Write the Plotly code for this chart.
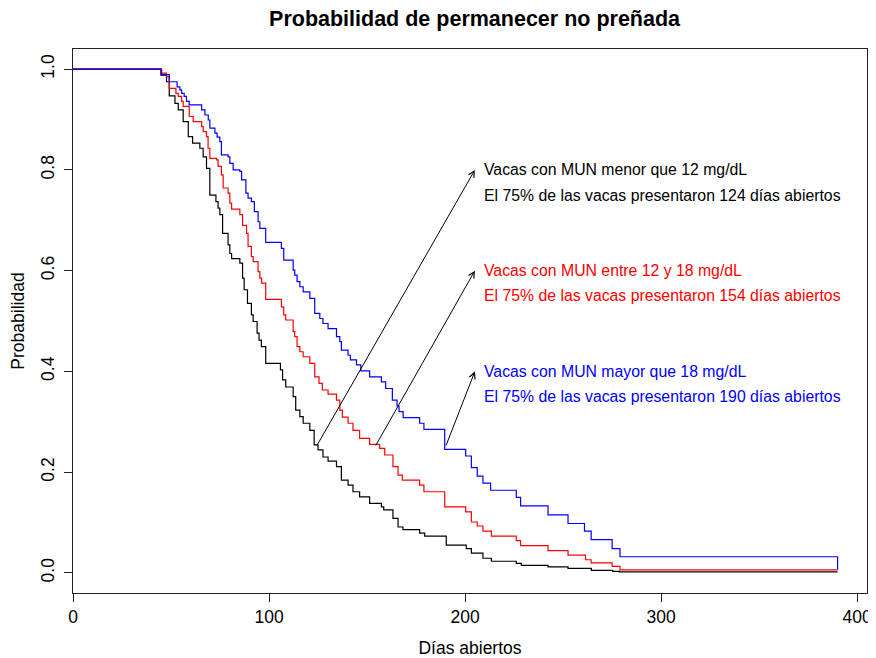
import plotly.graph_objects as go

# Kaplan-Meier style step data (days, survival)
black_t = [0, 44.8, 47.7, 49.1, 52.0, 53.7, 56.2, 58.8, 61.0, 64.7, 66.4, 68.1, 69.8, 72.9, 74.0, 74.9,
           76.3, 79.1, 80.0, 80.9, 85.1, 86.5, 87.3, 89.0, 91.0, 91.9, 93.9, 94.9, 96.1, 98.3, 105.8,
           106.9, 108.5, 112.3, 113.6, 115.7, 117.4, 120.8, 123.0, 125.0, 127.5, 130.1, 134.4, 136.9,
           140.3, 142.8, 146.2, 151.3, 157.3, 158.5, 163.2, 165.8, 168.3, 176.8, 179.4, 190.4, 200.6,
           203.2, 209.1, 213.4, 226.1, 228.7, 242.3, 252.5, 264.4, 275.3, 278.7, 390]
black_s = [1.0, 0.988, 0.975, 0.947, 0.932, 0.919, 0.896, 0.866, 0.853, 0.843, 0.826, 0.803, 0.750, 0.737,
           0.724, 0.711, 0.674, 0.651, 0.634, 0.624, 0.615, 0.585, 0.562, 0.535, 0.512, 0.499, 0.476, 0.462,
           0.449, 0.416, 0.403, 0.383, 0.369, 0.350, 0.323, 0.310, 0.297, 0.283, 0.254, 0.244, 0.230, 0.222,
           0.211, 0.184, 0.174, 0.161, 0.151, 0.138, 0.131, 0.125, 0.108, 0.091, 0.086, 0.079, 0.073, 0.055,
           0.048, 0.039, 0.029, 0.023, 0.019, 0.015, 0.012, 0.009, 0.005, 0.003, 0.002, 0.002]

red_t = [0, 44.8, 47.7, 49.1, 52.5, 53.7, 55.4, 56.2, 59.3, 61.3, 65.6, 66.4, 68.1, 68.9, 69.8, 73.2, 74.0,
         75.7, 76.6, 79.1, 80.0, 80.9, 85.1, 86.5, 88.5, 89.3, 91.0, 91.9, 94.4, 95.3, 96.2, 98.3, 106.3,
         107.5, 108.5, 112.3, 113.1, 114.3, 115.7, 117.4, 120.8, 123.3, 125.5, 127.2, 130.1, 134.4, 136.1,
         137.4, 140.3, 142.8, 146.2, 151.3, 156.4, 159.0, 163.2, 165.8, 168.0, 176.8, 179.0, 189.6, 200.3,
         203.2, 206.2, 209.1, 213.4, 226.1, 228.3, 242.3, 252.5, 261.4, 264.3, 275.0, 279.0, 390]
red_s = [1.0, 0.992, 0.985, 0.962, 0.952, 0.946, 0.936, 0.926, 0.906, 0.896, 0.886, 0.876, 0.866, 0.843,
         0.823, 0.820, 0.807, 0.790, 0.764, 0.754, 0.734, 0.722, 0.711, 0.690, 0.674, 0.648, 0.628, 0.618,
         0.598, 0.585, 0.575, 0.543, 0.528, 0.512, 0.502, 0.479, 0.469, 0.449, 0.439, 0.429, 0.416, 0.389,
         0.376, 0.363, 0.355, 0.343, 0.323, 0.309, 0.297, 0.283, 0.267, 0.255, 0.247, 0.234, 0.211, 0.194,
         0.184, 0.174, 0.161, 0.131, 0.121, 0.101, 0.093, 0.083, 0.073, 0.064, 0.054, 0.044, 0.035, 0.026,
         0.020, 0.013, 0.006, 0.006]

blue_t = [0, 45.2, 49.1, 53.1, 54.5, 55.4, 56.7, 57.9, 59.3, 65.6, 67.3, 69.0, 69.8, 72.4, 73.5, 74.9, 75.7,
          79.1, 80.0, 81.7, 85.1, 86.0, 88.2, 89.3, 91.0, 92.5, 94.4, 95.3, 98.3, 106.3, 107.5, 112.3, 113.1,
          114.3, 115.7, 117.4, 120.8, 123.3, 125.9, 127.5, 130.1, 134.4, 136.1, 136.9, 140.3, 141.5, 144.6,
          146.8, 151.3, 157.3, 159.5, 162.9, 165.3, 166.3, 168.4, 176.8, 179.0, 189.6, 200.3, 203.2, 206.2,
          209.1, 213.0, 226.1, 228.3, 242.3, 252.5, 260.9, 264.3, 275.0, 279.0, 390]
blue_s = [1.0, 0.989, 0.975, 0.965, 0.959, 0.952, 0.946, 0.936, 0.929, 0.919, 0.909, 0.899, 0.883, 0.873,
          0.865, 0.856, 0.830, 0.826, 0.813, 0.800, 0.797, 0.780, 0.754, 0.744, 0.737, 0.717, 0.697, 0.684,
          0.656, 0.644, 0.621, 0.601, 0.591, 0.578, 0.568, 0.558, 0.545, 0.515, 0.505, 0.495, 0.485, 0.469,
          0.459, 0.442, 0.432, 0.423, 0.413, 0.401, 0.389, 0.379, 0.366, 0.343, 0.331, 0.320, 0.308, 0.297,
          0.285, 0.245, 0.232, 0.209, 0.192, 0.178, 0.164, 0.150, 0.133, 0.115, 0.098, 0.083, 0.066, 0.048,
          0.032, 0.006]

# Annotation data
arrow_tail_x = [124, 154, 190]
arrow_tail_y = [0.25, 0.25, 0.25]
arrow_head_x = [205, 205, 205]
arrow_head_y = [0.80, 0.60, 0.40]
label_x = 208.5
label_line1 = ["Vacas con MUN menor que 12 mg/dL",
               "Vacas con MUN entre 12 y 18 mg/dL",
               "Vacas con MUN mayor que 18 mg/dL"]
label_line2 = ["El 75% de las vacas presentaron 124 días abiertos",
               "El 75% de las vacas presentaron 154 días abiertos",
               "El 75% de las vacas presentaron 190 días abiertos"]
label_y1 = [0.80, 0.60, 0.40]
label_y2 = [0.75, 0.55, 0.35]
label_colors = ["#000000", "#FF0000", "#0000FF"]

x_ticks = [0, 100, 200, 300, 400]
y_ticks = [0.0, 0.2, 0.4, 0.6, 0.8, 1.0]

FONT = "Liberation Sans, Arial, Helvetica, sans-serif"

fig = go.Figure()
for t, s, c in [(black_t, black_s, "#000000"), (red_t, red_s, "#FF0000"), (blue_t, blue_s, "#0000FF")]:
    fig.add_trace(go.Scatter(x=t, y=s, mode="lines", line=dict(color=c, width=1.2, shape="hv"),
                             showlegend=False, hoverinfo="skip"))

annotations = []
for i in range(3):
    annotations.append(dict(x=arrow_head_x[i], y=arrow_head_y[i], ax=arrow_tail_x[i], ay=arrow_tail_y[i],
                            xref="x", yref="y", axref="x", ayref="y", text="", showarrow=True,
                            arrowhead=5, arrowsize=1.2, arrowwidth=1, arrowcolor="#000000",
                            standoff=0, startstandoff=0))
    annotations.append(dict(x=label_x, y=label_y1[i], xref="x", yref="y", text=label_line1[i],
                            showarrow=False, xanchor="left", yanchor="middle",
                            font=dict(family=FONT, size=15.8, color=label_colors[i])))
    annotations.append(dict(x=label_x, y=label_y2[i], xref="x", yref="y", text=label_line2[i],
                            showarrow=False, xanchor="left", yanchor="middle",
                            font=dict(family=FONT, size=15.8, color=label_colors[i])))

fig.update_layout(
    width=868, height=650,
    margin=dict(l=65, r=9, t=41, b=65, autoexpand=False),
    paper_bgcolor="white", plot_bgcolor="white",
    font=dict(family=FONT, size=17.5, color="#000000"),
    title=dict(text="<b>Probabilidad de permanecer no preñada</b>", x=0.5375, xanchor="center",
               y=0.9846, yanchor="middle", font=dict(family=FONT, size=21.5, color="#000000")),
    annotations=annotations,
    xaxis=dict(range=[0, 405], tickvals=x_ticks, ticktext=[str(v) for v in x_ticks], automargin=False,
               showgrid=False, zeroline=False, showline=True, linecolor="#222222", linewidth=1,
               mirror=True, ticks="outside", ticklen=8, tickcolor="#222222",
               title=dict(text="Días abiertos", standoff=16, font=dict(size=17.5))),
    yaxis=dict(range=[-0.04, 1.04], tickvals=y_ticks, ticktext=["%.1f" % v for v in y_ticks],
               tickangle=-90, automargin=False, showgrid=False, zeroline=False, showline=True,
               linecolor="#222222", linewidth=1, mirror=True, ticks="outside", ticklen=8,
               tickcolor="#222222", ticklabelstandoff=3,
               title=dict(text="Probabilidad", standoff=15, font=dict(size=17.5))),
)

fig.write_html("out.html")
